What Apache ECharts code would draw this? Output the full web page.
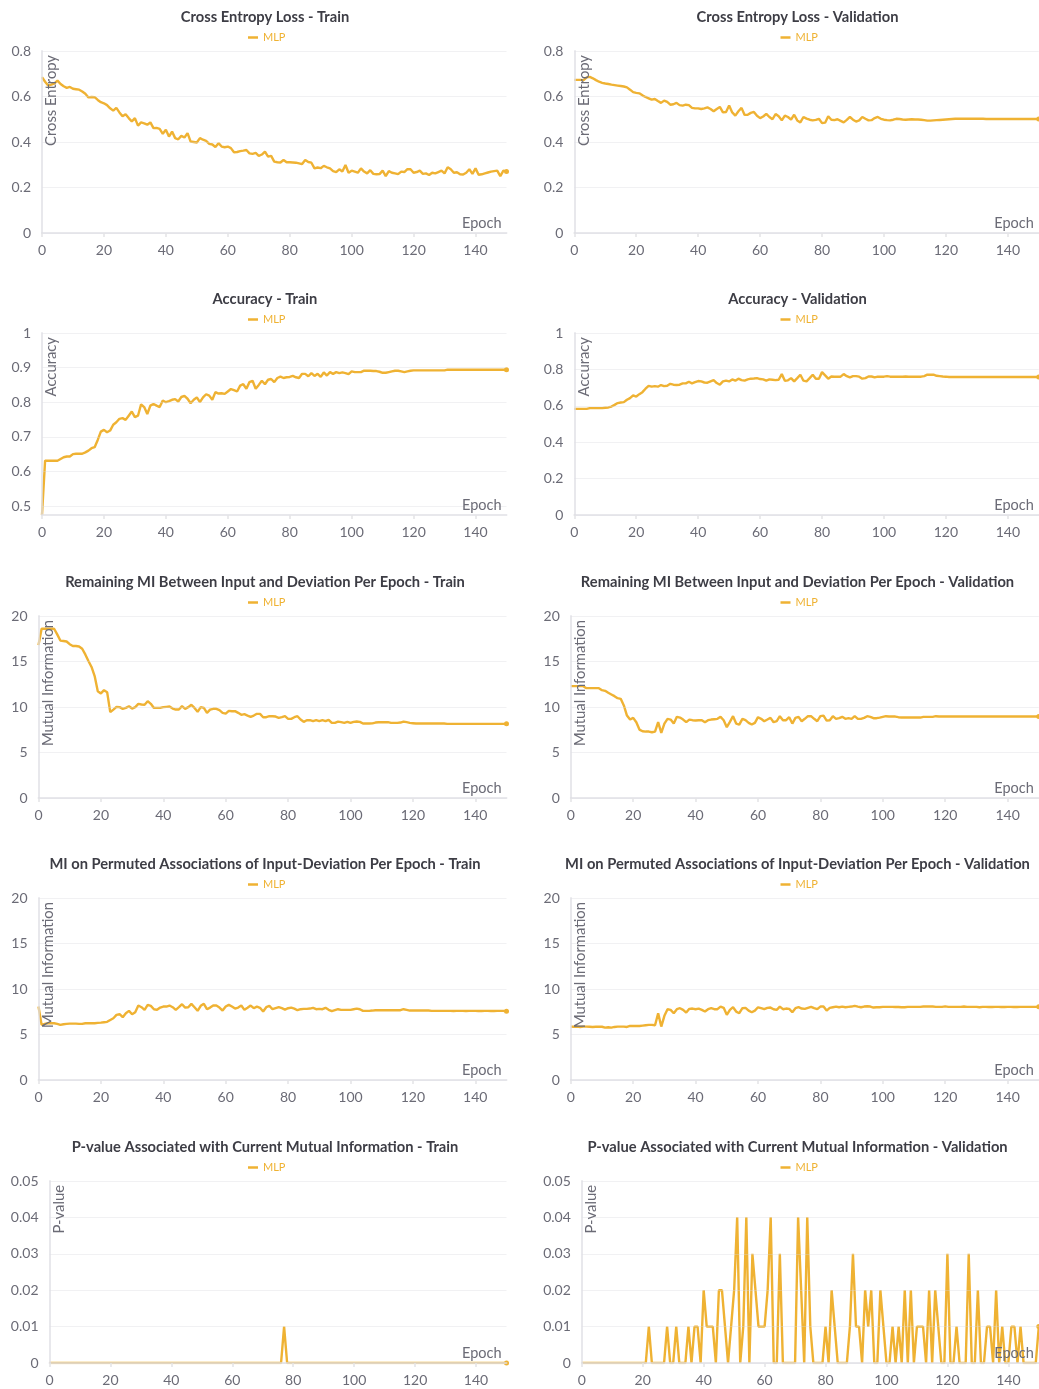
<!DOCTYPE html>
<html>
<head>
<meta charset="utf-8">
<script src="https://cdn.jsdelivr.net/npm/echarts@6/dist/echarts.min.js"></script>
<style>
  html, body { margin: 0; padding: 0; background: #ffffff; }
  #chart { width: 1039px; height: 1389px; }
</style>
</head>
<body>
<div id="chart"></div>
<script>
// ---- epochs (x values) ----
const epochs = Array.from({ length: 151 }, (_, i) => i);

// ---- Cross entropy ----
const ceTrain = [
  0.685, 0.665, 0.648, 0.652, 0.658, 0.670, 0.655, 0.645, 0.638, 0.642,
  0.634, 0.632, 0.630, 0.622, 0.612, 0.596, 0.598, 0.597, 0.585, 0.575,
  0.570, 0.562, 0.548, 0.538, 0.550, 0.530, 0.513, 0.522, 0.505, 0.490,
  0.505, 0.472, 0.486, 0.482, 0.476, 0.486, 0.461, 0.462, 0.458, 0.436,
  0.454, 0.424, 0.446, 0.417, 0.412, 0.427, 0.420, 0.439, 0.402, 0.400,
  0.398, 0.417, 0.410, 0.405, 0.392, 0.389, 0.378, 0.395, 0.380, 0.377,
  0.380, 0.373, 0.355, 0.356, 0.360, 0.362, 0.365, 0.350, 0.348, 0.352,
  0.339, 0.345, 0.358, 0.336, 0.339, 0.314, 0.311, 0.310, 0.321, 0.311,
  0.311, 0.310, 0.309, 0.306, 0.303, 0.321, 0.312, 0.309, 0.284, 0.288,
  0.285, 0.295, 0.289, 0.284, 0.272, 0.268, 0.280, 0.270, 0.299, 0.265,
  0.274, 0.270, 0.265, 0.284, 0.270, 0.262, 0.276, 0.260, 0.258, 0.259,
  0.274, 0.250, 0.272, 0.265, 0.262, 0.259, 0.270, 0.268, 0.281, 0.280,
  0.265, 0.268, 0.274, 0.260, 0.262, 0.255, 0.265, 0.262, 0.268, 0.274,
  0.262, 0.289, 0.280, 0.265, 0.267, 0.258, 0.257, 0.265, 0.280, 0.260,
  0.284, 0.256, 0.258, 0.262, 0.266, 0.270, 0.272, 0.274, 0.250, 0.274,
  0.270
];
const ceVal = [
  0.673, 0.673, 0.673, 0.672, 0.684, 0.686, 0.680, 0.672, 0.665, 0.660,
  0.657, 0.655, 0.652, 0.650, 0.648, 0.646, 0.644, 0.640, 0.630, 0.619,
  0.616, 0.614, 0.605, 0.598, 0.592, 0.586, 0.589, 0.580, 0.572, 0.582,
  0.576, 0.564, 0.566, 0.572, 0.562, 0.560, 0.564, 0.562, 0.550, 0.548,
  0.548, 0.545, 0.548, 0.552, 0.545, 0.535, 0.545, 0.554, 0.530, 0.532,
  0.560, 0.530, 0.516, 0.535, 0.550, 0.519, 0.520, 0.528, 0.532, 0.515,
  0.505, 0.512, 0.524, 0.510, 0.500, 0.523, 0.513, 0.495, 0.516, 0.510,
  0.498, 0.520, 0.495, 0.486, 0.510, 0.503, 0.498, 0.495, 0.497, 0.502,
  0.483, 0.485, 0.513, 0.498, 0.496, 0.500, 0.493, 0.486, 0.497, 0.510,
  0.498, 0.490, 0.495, 0.510, 0.502, 0.495, 0.496, 0.505, 0.510, 0.502,
  0.498, 0.496, 0.495, 0.498, 0.502, 0.501, 0.499, 0.498, 0.499, 0.500,
  0.499, 0.499, 0.498, 0.496, 0.494, 0.494, 0.495, 0.496, 0.497, 0.498,
  0.499, 0.500, 0.501, 0.502, 0.502, 0.502, 0.502, 0.502, 0.502, 0.502,
  0.502, 0.502, 0.502, 0.501, 0.501, 0.501, 0.501, 0.501, 0.501, 0.501,
  0.501, 0.501, 0.501, 0.501, 0.501, 0.501, 0.501, 0.501, 0.501, 0.501,
  0.501
];

// ---- Accuracy ----
const accTrain = [
  0.474, 0.631, 0.631, 0.631, 0.631, 0.631, 0.636, 0.641, 0.643, 0.643,
  0.650, 0.651, 0.651, 0.651, 0.655, 0.660, 0.667, 0.670, 0.691, 0.715,
  0.720, 0.713, 0.718, 0.735, 0.742, 0.752, 0.754, 0.749, 0.761, 0.773,
  0.757, 0.761, 0.794, 0.786, 0.766, 0.790, 0.795, 0.790, 0.786, 0.805,
  0.800, 0.803, 0.807, 0.809, 0.802, 0.815, 0.818, 0.810, 0.797, 0.807,
  0.814, 0.800, 0.814, 0.823, 0.819, 0.807, 0.829, 0.825, 0.826, 0.824,
  0.831, 0.838, 0.835, 0.831, 0.848, 0.852, 0.839, 0.858, 0.862, 0.839,
  0.850, 0.862, 0.852, 0.865, 0.867, 0.858, 0.870, 0.874, 0.870, 0.872,
  0.873, 0.876, 0.872, 0.870, 0.882, 0.882, 0.875, 0.884, 0.876, 0.882,
  0.873, 0.886, 0.877, 0.887, 0.882, 0.887, 0.884, 0.886, 0.884, 0.881,
  0.889, 0.887, 0.887, 0.887, 0.891, 0.891, 0.891, 0.890, 0.890, 0.888,
  0.885, 0.885, 0.887, 0.889, 0.891, 0.891, 0.889, 0.887, 0.889, 0.891,
  0.892, 0.892, 0.892, 0.892, 0.892, 0.892, 0.892, 0.892, 0.892, 0.892,
  0.892, 0.894, 0.894, 0.894, 0.894, 0.894, 0.894, 0.894, 0.894, 0.894,
  0.894, 0.894, 0.894, 0.894, 0.894, 0.894, 0.894, 0.894, 0.894, 0.894,
  0.894
];
const accVal = [
  0.583, 0.583, 0.583, 0.583, 0.583, 0.587, 0.587, 0.587, 0.587, 0.587,
  0.589, 0.591, 0.596, 0.605, 0.615, 0.618, 0.620, 0.633, 0.642, 0.657,
  0.651, 0.664, 0.675, 0.694, 0.710, 0.705, 0.708, 0.705, 0.714, 0.708,
  0.710, 0.721, 0.716, 0.714, 0.716, 0.723, 0.723, 0.732, 0.723, 0.730,
  0.736, 0.734, 0.728, 0.727, 0.734, 0.741, 0.725, 0.716, 0.734, 0.738,
  0.734, 0.745, 0.738, 0.749, 0.741, 0.738, 0.745, 0.749, 0.750, 0.752,
  0.747, 0.745, 0.738, 0.745, 0.743, 0.741, 0.743, 0.774, 0.738, 0.740,
  0.752, 0.734, 0.752, 0.771, 0.738, 0.734, 0.752, 0.771, 0.749, 0.749,
  0.785, 0.767, 0.749, 0.761, 0.760, 0.760, 0.760, 0.774, 0.763, 0.756,
  0.763, 0.763, 0.760, 0.749, 0.752, 0.761, 0.761, 0.756, 0.760, 0.760,
  0.760, 0.763, 0.760, 0.760, 0.760, 0.760, 0.760, 0.761, 0.760, 0.760,
  0.760, 0.760, 0.760, 0.763, 0.771, 0.771, 0.771, 0.765, 0.763, 0.761,
  0.760, 0.758, 0.758, 0.758, 0.758, 0.758, 0.758, 0.758, 0.758, 0.758,
  0.758, 0.758, 0.758, 0.758, 0.758, 0.758, 0.758, 0.758, 0.758, 0.758,
  0.758, 0.758, 0.758, 0.758, 0.758, 0.758, 0.758, 0.758, 0.758, 0.758,
  0.758
];

// ---- Remaining mutual information ----
const miTrain = [
  16.80, 18.60, 18.60, 18.60, 18.60, 18.60, 17.98, 17.30, 17.25, 17.20,
  16.90, 16.70, 16.70, 16.65, 16.40, 15.78, 15.05, 14.40, 13.40, 11.74,
  11.49, 11.85, 11.63, 9.43, 9.72, 10.02, 9.98, 9.80, 9.90, 10.09,
  9.83, 9.98, 10.35, 10.28, 10.24, 10.64, 10.35, 9.90, 9.90, 9.90,
  9.98, 10.02, 10.06, 9.83, 9.72, 9.72, 10.09, 9.80, 9.98, 10.24,
  9.90, 9.47, 9.98, 9.90, 9.36, 9.72, 9.80, 9.80, 9.65, 9.36,
  9.28, 9.58, 9.54, 9.54, 9.36, 9.14, 9.21, 9.06, 8.92, 9.06,
  9.25, 9.25, 8.88, 8.88, 8.99, 8.99, 8.95, 8.81, 8.88, 8.99,
  8.70, 8.70, 8.88, 8.99, 8.62, 8.37, 8.55, 8.55, 8.44, 8.55,
  8.44, 8.55, 8.44, 8.59, 8.26, 8.26, 8.40, 8.33, 8.26, 8.37,
  8.26, 8.37, 8.40, 8.37, 8.18, 8.18, 8.18, 8.20, 8.29, 8.33,
  8.33, 8.33, 8.33, 8.26, 8.26, 8.26, 8.29, 8.40, 8.33, 8.26,
  8.22, 8.18, 8.18, 8.18, 8.18, 8.18, 8.18, 8.18, 8.18, 8.18,
  8.18, 8.15, 8.15, 8.15, 8.15, 8.15, 8.15, 8.15, 8.15, 8.15,
  8.15, 8.15, 8.15, 8.15, 8.15, 8.15, 8.15, 8.15, 8.15, 8.15,
  8.15
];
const miVal = [
  12.29, 12.29, 12.29, 12.29, 12.29, 12.07, 12.07, 12.07, 12.07, 12.07,
  11.85, 11.78, 11.56, 11.38, 11.19, 10.97, 10.90, 10.17, 9.06, 8.62,
  8.81, 8.33, 7.52, 7.34, 7.30, 7.30, 7.23, 7.30, 8.33, 7.16,
  8.18, 8.70, 8.62, 8.18, 8.92, 8.84, 8.62, 8.33, 8.62, 8.55,
  8.51, 8.55, 8.55, 8.33, 8.55, 8.62, 8.66, 8.70, 8.92, 8.55,
  7.78, 8.37, 8.99, 8.18, 8.07, 8.70, 8.55, 8.26, 8.07, 8.26,
  8.88, 8.70, 8.44, 8.62, 8.81, 8.33, 8.44, 8.99, 8.55, 8.55,
  8.88, 8.18, 8.81, 8.92, 8.44, 8.70, 8.99, 8.99, 8.70, 8.44,
  8.99, 9.06, 8.51, 8.55, 8.99, 8.70, 8.77, 8.92, 8.70, 8.77,
  8.70, 8.99, 8.70, 8.70, 8.81, 8.99, 8.92, 8.77, 8.77, 8.84,
  8.92, 8.99, 8.95, 8.95, 8.95, 8.88, 8.84, 8.84, 8.84, 8.84,
  8.84, 8.84, 8.84, 8.92, 8.92, 8.92, 8.92, 8.99, 8.95, 8.95,
  8.95, 8.95, 8.95, 8.95, 8.95, 8.95, 8.95, 8.95, 8.95, 8.95,
  8.95, 8.95, 8.95, 8.95, 8.95, 8.95, 8.95, 8.95, 8.95, 8.95,
  8.95, 8.95, 8.95, 8.95, 8.95, 8.95, 8.95, 8.95, 8.95, 8.95,
  8.95
];

// ---- MI on permuted input/deviation pairs ----
const permTrain = [
  8.07, 6.06, 6.17, 6.24, 6.24, 6.24, 6.17, 6.06, 6.13, 6.17,
  6.20, 6.20, 6.20, 6.17, 6.17, 6.24, 6.24, 6.24, 6.24, 6.28,
  6.31, 6.35, 6.39, 6.60, 6.79, 7.16, 7.23, 6.90, 7.34, 7.60,
  7.23, 7.45, 8.18, 8.00, 7.71, 8.26, 8.15, 7.78, 7.71, 7.96,
  8.07, 8.07, 8.18, 8.00, 7.71, 8.00, 8.33, 7.96, 8.00, 8.37,
  8.00, 7.60, 8.15, 8.37, 7.78, 7.96, 8.18, 8.18, 7.96, 7.63,
  8.07, 8.26, 8.07, 7.85, 7.96, 8.18, 7.71, 7.93, 8.18, 7.89,
  8.07, 7.93, 7.52, 8.00, 8.15, 7.78, 7.89, 8.00, 7.89, 7.74,
  7.89, 7.96, 7.85, 7.67, 7.78, 7.82, 7.82, 7.85, 7.93, 7.78,
  7.82, 7.78, 7.93, 7.71, 7.56, 7.67, 7.78, 7.71, 7.71, 7.71,
  7.71, 7.78, 7.85, 7.78, 7.60, 7.60, 7.60, 7.63, 7.67, 7.67,
  7.67, 7.67, 7.67, 7.67, 7.67, 7.67, 7.67, 7.78, 7.71, 7.63,
  7.63, 7.63, 7.63, 7.63, 7.63, 7.63, 7.60, 7.60, 7.60, 7.60,
  7.60, 7.60, 7.60, 7.58, 7.60, 7.60, 7.60, 7.58, 7.60, 7.60,
  7.60, 7.58, 7.58, 7.60, 7.60, 7.58, 7.58, 7.60, 7.60, 7.60,
  7.56
];
const permVal = [
  5.87, 5.85, 5.87, 5.83, 5.87, 5.87, 5.85, 5.83, 5.85, 5.87,
  5.85, 5.76, 5.80, 5.76, 5.83, 5.87, 5.87, 5.87, 5.83, 5.94,
  5.94, 5.94, 5.94, 5.98, 6.02, 6.06, 6.06, 6.02, 7.34, 5.87,
  7.05, 7.78, 7.71, 7.34, 7.78, 7.89, 7.71, 7.41, 7.82, 7.85,
  7.78, 7.85, 7.71, 7.52, 7.78, 7.89, 7.78, 7.78, 8.07, 7.93,
  7.16, 7.71, 8.00, 7.52, 7.34, 7.89, 7.93, 7.63, 7.45, 7.63,
  7.99, 7.89, 7.78, 7.93, 7.96, 7.78, 7.71, 8.07, 7.78, 7.85,
  7.82, 7.45, 7.89, 8.00, 7.85, 7.82, 7.93, 8.04, 7.89, 7.78,
  8.07, 8.07, 7.63, 7.93, 8.00, 8.07, 8.00, 8.07, 8.00, 8.04,
  8.07, 8.15, 8.07, 8.00, 8.07, 8.11, 8.07, 7.96, 8.00, 8.00,
  8.04, 8.04, 8.04, 8.04, 8.02, 8.02, 8.00, 8.00, 8.04, 8.04,
  8.04, 8.04, 8.04, 8.07, 8.07, 8.07, 8.07, 8.04, 8.04, 8.04,
  8.09, 8.04, 8.04, 8.04, 8.04, 8.04, 8.07, 8.04, 8.04, 8.04,
  8.04, 8.00, 8.04, 8.04, 8.02, 8.02, 8.04, 8.04, 8.02, 8.02,
  8.04, 8.04, 8.02, 8.02, 8.04, 8.04, 8.04, 8.04, 8.04, 8.04,
  8.04
];

// ---- P-values ----
const pTrain = [
  0, 0, 0, 0, 0, 0, 0, 0, 0, 0,
  0, 0, 0, 0, 0, 0, 0, 0, 0, 0,
  0, 0, 0, 0, 0, 0, 0, 0, 0, 0,
  0, 0, 0, 0, 0, 0, 0, 0, 0, 0,
  0, 0, 0, 0, 0, 0, 0, 0, 0, 0,
  0, 0, 0, 0, 0, 0, 0, 0, 0, 0,
  0, 0, 0, 0, 0, 0, 0, 0, 0, 0,
  0, 0, 0, 0, 0, 0, 0, 0.01, 0, 0,
  0, 0, 0, 0, 0, 0, 0, 0, 0, 0,
  0, 0, 0, 0, 0, 0, 0, 0, 0, 0,
  0, 0, 0, 0, 0, 0, 0, 0, 0, 0,
  0, 0, 0, 0, 0, 0, 0, 0, 0, 0,
  0, 0, 0, 0, 0, 0, 0, 0, 0, 0,
  0, 0, 0, 0, 0, 0, 0, 0, 0, 0,
  0, 0, 0, 0, 0, 0, 0, 0, 0, 0,
  0
];
const pVal = [
  0, 0, 0, 0, 0, 0, 0, 0, 0, 0,
  0, 0, 0, 0, 0, 0, 0, 0, 0, 0,
  0, 0, 0.01, 0, 0, 0, 0, 0, 0.01, 0,
  0, 0.01, 0, 0, 0, 0.01, 0, 0.01, 0.01, 0,
  0.02, 0.01, 0.01, 0.01, 0, 0.02, 0.02, 0.01, 0, 0.01,
  0.02, 0.04, 0, 0.01, 0.04, 0, 0.03, 0.02, 0.01, 0.01,
  0.01, 0.02, 0.04, 0, 0, 0.03, 0, 0, 0, 0,
  0, 0.04, 0.02, 0, 0.04, 0.01, 0, 0, 0, 0,
  0.01, 0, 0.02, 0.01, 0, 0, 0, 0, 0.01, 0.03,
  0.01, 0.01, 0, 0.02, 0.01, 0.02, 0, 0, 0.02, 0.01,
  0, 0, 0.01, 0, 0.01, 0, 0.02, 0, 0.02, 0,
  0.01, 0.01, 0.01, 0, 0.02, 0, 0.02, 0.01, 0, 0,
  0.03, 0, 0, 0.01, 0, 0, 0, 0.03, 0, 0,
  0.02, 0, 0, 0.01, 0.01, 0, 0.02, 0, 0.01, 0,
  0, 0.01, 0.01, 0, 0.01, 0, 0, 0, 0, 0,
  0.01
];

// ---- axis tick labels ----
const epochTicks = [0, 20, 40, 60, 80, 100, 120, 140];
const ceTicks = [0, 0.2, 0.4, 0.6, 0.8];
const accTrainTicks = [0.5, 0.6, 0.7, 0.8, 0.9, 1];
const accValTicks = [0, 0.2, 0.4, 0.6, 0.8, 1];
const miTicks = [0, 5, 10, 15, 20];
const pTicks = [0, 0.01, 0.02, 0.03, 0.04, 0.05];

const seriesName = 'MLP';
const lineColor = '#efb233';

// panel descriptions, row-major (left = Train, right = Validation)
const panels = [
  { title: 'Cross Entropy Loss - Train', yName: 'Cross Entropy', values: ceTrain, ticks: ceTicks, yMin: 0, yMax: 0.8 },
  { title: 'Cross Entropy Loss - Validation', yName: 'Cross Entropy', values: ceVal, ticks: ceTicks, yMin: 0, yMax: 0.8 },
  { title: 'Accuracy - Train', yName: 'Accuracy', values: accTrain, ticks: accTrainTicks, yMin: 'dataMin', yMax: 1 },
  { title: 'Accuracy - Validation', yName: 'Accuracy', values: accVal, ticks: accValTicks, yMin: 0, yMax: 1 },
  { title: 'Remaining MI Between Input and Deviation Per Epoch - Train', yName: 'Mutual Information', values: miTrain, ticks: miTicks, yMin: 0, yMax: 20 },
  { title: 'Remaining MI Between Input and Deviation Per Epoch - Validation', yName: 'Mutual Information', values: miVal, ticks: miTicks, yMin: 0, yMax: 20 },
  { title: 'MI on Permuted Associations of Input-Deviation Per Epoch - Train', yName: 'Mutual Information', values: permTrain, ticks: miTicks, yMin: 0, yMax: 20 },
  { title: 'MI on Permuted Associations of Input-Deviation Per Epoch - Validation', yName: 'Mutual Information', values: permVal, ticks: miTicks, yMin: 0, yMax: 20 },
  { title: 'P-value Associated with Current Mutual Information - Train', yName: 'P-value', values: pTrain, ticks: pTicks, yMin: 0, yMax: 0.05 },
  { title: 'P-value Associated with Current Mutual Information - Validation', yName: 'P-value', values: pVal, ticks: pTicks, yMin: 0, yMax: 0.05 }
];

// ---- layout ----
const FONT = 'Lato, "Source Sans Pro", "Noto Sans", sans-serif';
const rowTop = [51, 333, 616, 898, 1181];
const rowLeft = [42, 42, 38.5, 38.5, 49.5];
const plotHeight = 182;
const colOffset = 532.3;
const plotRight = 506.5;
const colCenter = [265, 797.5];
const tickColor = '#6b6b76';
// axis lines sit above the curves and are slightly see-through
const axisLineColor = 'rgba(222, 222, 228, 0.7)';

const option = {
  animation: false,
  backgroundColor: '#ffffff',
  title: [], legend: [], grid: [], xAxis: [], yAxis: [], series: []
};

panels.forEach((p, i) => {
  const row = Math.floor(i / 2);
  const col = i % 2;
  const left = rowLeft[row] + col * colOffset;
  const width = plotRight - rowLeft[row];
  const top = rowTop[row];

  option.title.push({
    text: p.title,
    left: colCenter[col],
    top: top - 43,
    textAlign: 'center',
    padding: 0,
    textStyle: { fontFamily: FONT, fontSize: 14.7, fontWeight: 'bold', color: '#3d3d45', lineHeight: 18 }
  });

  option.legend.push({
    data: [seriesName],
    left: colCenter[col] - 17,
    top: top - 19,
    padding: 0,
    icon: 'rect',
    itemWidth: 10,
    itemHeight: 2.5,
    itemGap: 4,
    selectedMode: false,
    textStyle: { fontFamily: FONT, fontSize: 11, color: lineColor, padding: [0, 0, 0, 0] }
  });

  option.grid.push({ left: left, top: top, width: width, height: plotHeight, containLabel: false });

  option.xAxis.push({
    type: 'value',
    gridIndex: i,
    z: 3,
    min: 0,
    max: 150,
    interval: 20,
    name: 'Epoch',
    nameLocation: 'end',
    nameGap: -5,
    nameMoveOverlap: false,
    nameTextStyle: { fontFamily: FONT, fontSize: 14.5, color: tickColor, align: 'right', verticalAlign: 'bottom', padding: [0, 0, 2, 0] },
    axisLine: { show: true, lineStyle: { color: axisLineColor, width: 2 } },
    axisTick: { show: true, length: 4, customValues: epochTicks, lineStyle: { color: '#e3e3e6', width: 1.5 } },
    axisLabel: { customValues: epochTicks, margin: 10, fontFamily: FONT, fontSize: 14, color: tickColor },
    splitLine: { show: false }
  });

  option.yAxis.push({
    type: 'value',
    gridIndex: i,
    z: 3,
    min: p.yMin,
    max: p.yMax,
    name: p.yName,
    nameLocation: 'end',
    nameGap: -4,
    nameRotate: 90,
    nameMoveOverlap: false,
    nameTextStyle: { fontFamily: FONT, fontSize: 14.8, color: tickColor, align: 'right', verticalAlign: 'top', padding: [2, 0, 0, 0] },
    axisLine: { show: true, lineStyle: { color: axisLineColor, width: 2 } },
    axisTick: { show: false, customValues: p.ticks },
    axisLabel: { customValues: p.ticks, margin: 11, fontFamily: FONT, fontSize: 14, color: tickColor },
    splitLine: { show: true, lineStyle: { color: 'rgba(215, 215, 222, 0.35)', width: 1 } }
  });

  const last = p.values.length - 1;
  option.series.push({
    name: seriesName,
    type: 'line',
    z: 2,
    xAxisIndex: i,
    yAxisIndex: i,
    data: p.values.map((v, k) => [epochs[k], v]),
    symbol: 'circle',
    showSymbol: true,
    showAllSymbol: true,
    symbolSize: (val, params) => (params.dataIndex === last ? 5 : 0),
    itemStyle: { color: lineColor },
    lineStyle: { color: lineColor, width: 2.4 },
    emphasis: { disabled: true },
    clip: true
  });
});

const chart = echarts.init(document.getElementById('chart'), null, { renderer: 'canvas' });
chart.setOption(option);
</script>
</body>
</html>
